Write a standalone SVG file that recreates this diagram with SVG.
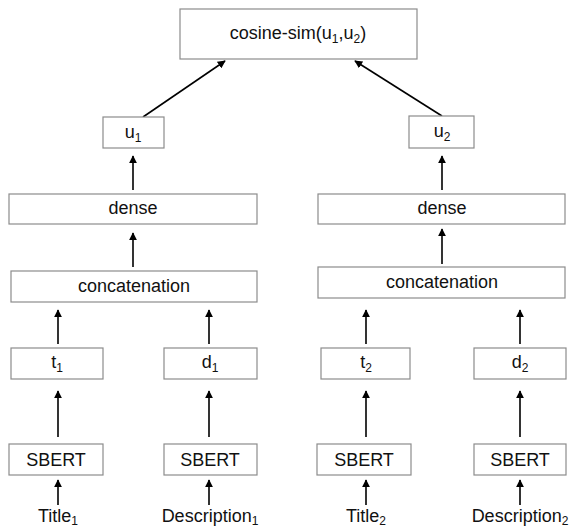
<svg xmlns="http://www.w3.org/2000/svg" width="571" height="528" viewBox="0 0 571 528">
<style>
.box{fill:#fff;stroke:#8c8c8c;stroke-width:1.2}
.t{font-family:"Liberation Sans",Arial,sans-serif;font-size:18px;fill:#111;text-anchor:middle}
.s{font-size:12px}
.c{stroke:#000;stroke-width:1.6;fill:none;marker-end:url(#ah)}
</style>
<defs>
<marker id="ah" viewBox="0 0 10 10" refX="9" refY="5" markerWidth="5" markerHeight="5" markerUnits="strokeWidth" orient="auto">
<path d="M0,0 L10,5 L0,10 Z" fill="#000"/>
</marker>
</defs>
<rect width="571" height="528" fill="#fff"/>
<g id="connectors">
<line class="c" x1="143" y1="117" x2="225" y2="61"/>
<line class="c" x1="442" y1="116" x2="355" y2="61"/>
<line class="c" x1="133" y1="190" x2="133" y2="156"/>
<line class="c" x1="442" y1="190" x2="442" y2="156"/>
<line class="c" x1="133" y1="267" x2="133" y2="233"/>
<line class="c" x1="442" y1="264" x2="442" y2="229"/>
<line class="c" x1="58" y1="344" x2="58" y2="310"/>
<line class="c" x1="209" y1="344" x2="209" y2="310"/>
<line class="c" x1="366" y1="344" x2="366" y2="310"/>
<line class="c" x1="520" y1="344" x2="520" y2="310"/>
<line class="c" x1="58" y1="437" x2="58" y2="391"/>
<line class="c" x1="209" y1="437" x2="209" y2="391"/>
<line class="c" x1="366" y1="437" x2="366" y2="391"/>
<line class="c" x1="520" y1="437" x2="520" y2="391"/>
<line class="c" x1="58" y1="505" x2="58" y2="480"/>
<line class="c" x1="209" y1="505" x2="209" y2="480"/>
<line class="c" x1="366" y1="505" x2="366" y2="480"/>
<line class="c" x1="520" y1="505" x2="520" y2="480"/>
</g>
<g id="cosine"><rect class="box" x="180" y="9" width="237" height="50"/><text class="t" x="298" y="39">cosine-sim(u<tspan class="s" dy="4">1</tspan><tspan dy="-4">,u</tspan><tspan class="s" dy="4">2</tspan><tspan dy="-4">)</tspan></text></g>
<g id="u1"><rect class="box" x="103" y="117" width="61" height="31"/><text class="t" x="133" y="138">u<tspan class="s" dy="4">1</tspan></text></g>
<g id="u2"><rect class="box" x="409" y="116" width="65" height="32"/><text class="t" x="442" y="137">u<tspan class="s" dy="4">2</tspan></text></g>
<g id="dense1"><rect class="box" x="9" y="194" width="248" height="30"/><text class="t" x="133" y="214">dense</text></g>
<g id="dense2"><rect class="box" x="318" y="194" width="247" height="30"/><text class="t" x="442" y="214">dense</text></g>
<g id="concat1"><rect class="box" x="11" y="271" width="246" height="31"/><text class="t" x="134" y="292">concatenation</text></g>
<g id="concat2"><rect class="box" x="318" y="267" width="247" height="31"/><text class="t" x="442" y="288">concatenation</text></g>
<g id="t1"><rect class="box" x="11" y="348" width="92" height="31"/><text class="t" x="57" y="368">t<tspan class="s" dy="4">1</tspan></text></g>
<g id="d1"><rect class="box" x="164" y="348" width="93" height="31"/><text class="t" x="210" y="368">d<tspan class="s" dy="4">1</tspan></text></g>
<g id="t2"><rect class="box" x="321" y="348" width="89" height="31"/><text class="t" x="366" y="368">t<tspan class="s" dy="4">2</tspan></text></g>
<g id="d2"><rect class="box" x="474" y="348" width="92" height="31"/><text class="t" x="520" y="368">d<tspan class="s" dy="4">2</tspan></text></g>
<g id="sbert1"><rect class="box" x="9" y="444" width="94" height="31"/><text class="t" x="56" y="466">SBERT</text></g>
<g id="sbert2"><rect class="box" x="164" y="444" width="93" height="31"/><text class="t" x="210" y="466">SBERT</text></g>
<g id="sbert3"><rect class="box" x="317" y="444" width="94" height="31"/><text class="t" x="364" y="466">SBERT</text></g>
<g id="sbert4"><rect class="box" x="474" y="444" width="92" height="31"/><text class="t" x="520" y="466">SBERT</text></g>
<g id="title1"><text class="t" x="58" y="522">Title<tspan class="s" dy="3">1</tspan></text></g>
<g id="desc1"><text class="t" x="210" y="522">Description<tspan class="s" dy="3">1</tspan></text></g>
<g id="title2"><text class="t" x="366" y="522">Title<tspan class="s" dy="3">2</tspan></text></g>
<g id="desc2"><text class="t" x="520" y="522">Description<tspan class="s" dy="3">2</tspan></text></g>
</svg>
